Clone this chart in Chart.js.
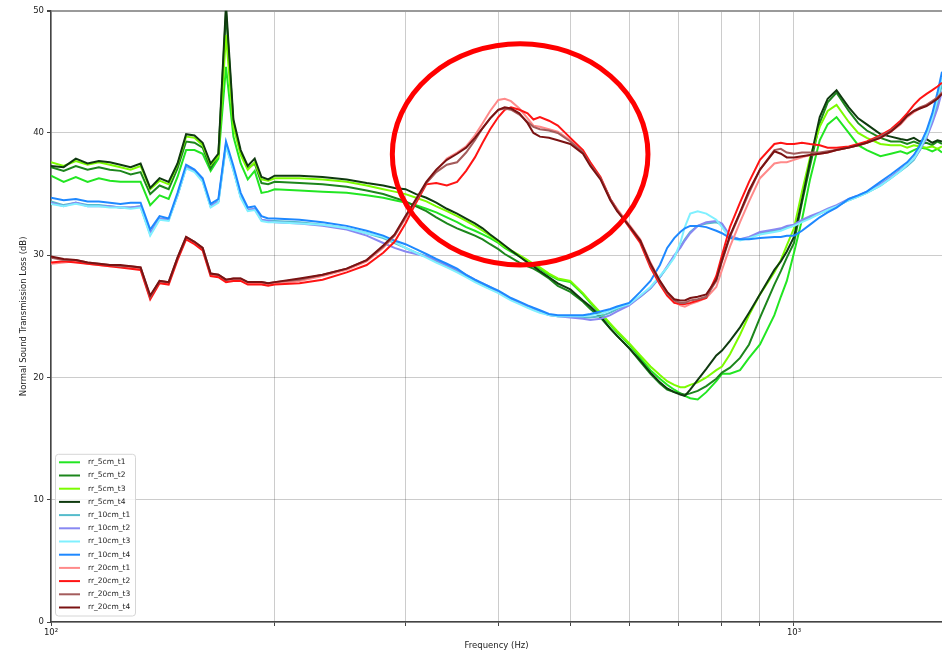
<!DOCTYPE html>
<html lang="en">
<head>
  <meta charset="UTF-8" />
  <title>Normal Sound Transmission Loss</title>
  <script src="https://cdn.jsdelivr.net/npm/chart.js"></script>
  <style>
    body {
      margin: 0;
      background: #fff;
    }

    .wrap {
      width: 942px;
      height: 654px;
    }
  </style>
</head>
<body>
  <div class="wrap">
    <canvas id="tlChart" width="942" height="654"></canvas>
  </div>

  <script>
    // frequencies (Hz) shared by every trace
    const freqs = [
      100, 104, 108, 112, 116, 120, 124, 128, 132, 136, 140, 144, 148, 152, 156, 160, 164, 168, 172, 176, 180, 184, 188, 192, 196, 200,
      216, 232, 250, 266, 280, 290, 300, 310, 320, 330,
      341, 352, 362, 372, 381, 390, 400, 408, 416, 427,
      438, 446, 455, 468, 481, 500, 520, 532, 549, 566,
      578, 600, 621, 641, 660, 675, 690, 703, 713, 725,
      742, 762, 786, 800, 820, 846, 870, 900, 941, 960,
      978, 1000, 1025, 1051, 1083, 1110, 1141, 1185, 1220, 1253,
      1307, 1350, 1391, 1420, 1450, 1477, 1508, 1535, 1560, 1582
    ];

    const xTicks = [100, 200, 300, 400, 500, 600, 700, 800, 900, 1000];
    const yTicks = [0, 10, 20, 30, 40, 50];

    const rr_5cm_t1 = [
      36.5, 36.0, 36.4, 36.0, 36.3, 36.1, 36.0, 36.0, 36.0, 34.1, 34.9, 34.6, 36.4, 38.6, 38.6, 38.3, 36.9, 37.9, 45.4, 39.7, 37.5, 36.2, 36.9, 35.1, 35.2, 35.4,
      35.3, 35.2, 35.1, 34.9, 34.7, 34.5, 34.3, 34.1, 33.8, 33.5,
      33.1, 32.7, 32.3, 32.0, 31.7, 31.4, 31.0, 30.6, 30.3, 29.9,
      29.5, 29.2, 28.9, 28.4, 28.0, 27.8, 26.8, 26.1, 25.2, 24.3,
      23.7, 22.7, 21.6, 20.6, 19.9, 19.4, 19.0, 18.7, 18.5, 18.3,
      18.2, 18.8, 19.7, 20.3, 20.3, 20.6, 21.6, 22.7, 25.1, 26.6,
      27.9, 30.2, 32.9, 36.2, 39.4, 40.7, 41.3, 40.0, 39.0, 38.6,
      38.1, 38.3, 38.5, 38.3, 38.6, 38.8, 38.7, 38.5, 38.7, 38.4
    ];
    const rr_5cm_t2 = [
      37.2, 36.9, 37.3, 37.0, 37.2, 37.0, 36.9, 36.6, 36.8, 35.0, 35.7, 35.4, 37.1, 39.3, 39.2, 38.8, 37.1, 38.2, 49.9, 40.8, 38.4, 37.1, 37.5, 35.9, 35.8, 36.0,
      35.9, 35.8, 35.6, 35.3, 35.0, 34.7, 34.4, 34.0, 33.6, 33.1,
      32.6, 32.2, 31.9, 31.6, 31.3, 30.9, 30.5, 30.1, 29.8, 29.4,
      29.1, 28.9, 28.6, 28.1, 27.5, 27.0, 26.2, 25.6, 24.9, 24.0,
      23.4, 22.4, 21.3, 20.3, 19.5, 19.0, 18.8, 18.7, 18.6, 18.7,
      18.9, 19.3, 19.9, 20.4, 20.8, 21.6, 22.7, 24.9, 27.6, 28.7,
      29.8, 31.0, 34.3, 37.3, 40.8, 42.5, 43.3, 41.8, 40.8, 40.2,
      39.6, 39.3, 39.3, 39.1, 39.3, 39.1, 39.2, 39.0, 39.3, 39.1
    ];
    const rr_5cm_t3 = [
      37.6, 37.3, 37.7, 37.4, 37.6, 37.4, 37.2, 37.0, 37.3, 35.4, 36.1, 35.8, 37.4, 39.7, 39.6, 39.0, 37.4, 38.1, 48.0, 40.5, 38.2, 37.0, 37.6, 36.2, 36.1, 36.3,
      36.3, 36.2, 36.0, 35.7, 35.4, 35.2, 35.0, 34.7, 34.4, 34.0,
      33.6, 33.2, 32.8, 32.4, 32.0, 31.6, 31.1, 30.7, 30.4, 30.0,
      29.6, 29.3, 29.0, 28.5, 28.1, 27.9, 26.9, 26.2, 25.3, 24.4,
      23.8, 22.8, 21.8, 20.9, 20.2, 19.7, 19.4, 19.2, 19.2, 19.4,
      19.6, 20.0, 20.6, 20.9, 21.9, 23.5, 25.1, 26.8, 28.6, 29.6,
      30.8, 32.2, 35.2, 38.0, 40.5, 41.8, 42.3, 40.9, 40.0, 39.6,
      39.1, 39.0, 39.0, 38.8, 39.0, 38.9, 38.8, 38.9, 38.7, 38.9
    ];
    const rr_5cm_t4 = [
      37.3, 37.2, 37.9, 37.5, 37.7, 37.6, 37.4, 37.2, 37.5, 35.5, 36.3, 36.0, 37.5, 39.9, 39.8, 39.2, 37.5, 38.3, 50.5, 41.1, 38.6, 37.3, 37.9, 36.4, 36.2, 36.5,
      36.5, 36.4, 36.2, 35.9, 35.7, 35.5, 35.4, 35.0, 34.7, 34.3,
      33.8, 33.4, 33.0, 32.6, 32.2, 31.7, 31.2, 30.8, 30.4, 29.9,
      29.4, 29.1, 28.7, 28.2, 27.7, 27.2, 26.3, 25.8, 25.0, 24.0,
      23.4, 22.4, 21.4, 20.4, 19.6, 19.1, 18.8, 18.6, 18.5, 19.0,
      19.8, 20.7, 21.8, 22.2, 23.0, 24.1, 25.3, 26.8, 28.8, 29.5,
      30.3, 31.5, 34.5, 37.7, 41.3, 42.8, 43.5, 42.1, 41.2, 40.7,
      39.9, 39.7, 39.5, 39.4, 39.6, 39.3, 39.5, 39.2, 39.4, 39.3
    ];

    const rr_10cm_t1 = [
      34.4, 34.1, 34.3, 34.1, 34.1, 34.0, 33.9, 33.9, 34.0, 31.7, 33.0, 32.9, 34.9, 37.2, 36.9, 36.1, 34.0, 34.4, 39.0, 37.0, 34.8, 33.7, 33.8, 32.9, 32.8, 32.8,
      32.7, 32.5, 32.2, 31.8, 31.4, 31.0, 30.6, 30.2, 29.9, 29.5,
      29.1, 28.7, 28.3, 27.9, 27.6, 27.3, 27.0, 26.7, 26.4, 26.1,
      25.8, 25.6, 25.4, 25.1, 25.0, 25.0, 24.9, 24.9, 25.0, 25.3,
      25.6, 26.0, 26.6, 27.3, 28.2, 29.0, 29.9, 30.7, 31.3, 31.9,
      32.4, 32.6, 32.7, 32.5, 31.5, 31.3, 31.4, 31.8, 32.0, 32.1,
      32.3, 32.4, 32.8, 33.1, 33.4, 33.7, 34.0, 34.5, 34.8, 35.1,
      35.7, 36.3, 36.9, 37.3, 37.8, 38.6, 39.7, 41.0, 42.4, 44.0
    ];
    const rr_10cm_t2 = [
      34.3, 34.0, 34.3, 34.0, 34.0, 34.0, 33.9, 33.9, 34.0, 31.8, 33.0, 32.9, 34.9, 37.2, 36.9, 36.1, 34.0, 34.4, 39.1, 37.0, 34.8, 33.7, 33.8, 32.9, 32.8, 32.7,
      32.6, 32.4, 32.1, 31.6, 31.0, 30.6, 30.3, 30.1, 29.9, 29.6,
      29.2, 28.8, 28.4, 28.0, 27.7, 27.4, 27.0, 26.7, 26.4, 26.1,
      25.8, 25.6, 25.4, 25.1, 25.0, 24.9, 24.8, 24.7, 24.8, 25.1,
      25.4, 25.9, 26.6, 27.3, 28.2, 29.1, 30.0, 30.6, 31.2, 31.8,
      32.4, 32.7, 32.8, 32.6, 31.6, 31.3, 31.5, 31.9, 32.1, 32.2,
      32.4, 32.5, 32.9, 33.2, 33.5, 33.8, 34.1, 34.6, 34.9, 35.2,
      35.8, 36.4, 37.0, 37.4, 37.9, 38.6, 39.6, 40.8, 42.0, 43.4
    ];
    const rr_10cm_t3 = [
      34.2, 34.0, 34.2, 34.0, 34.0, 33.9, 33.9, 33.8, 33.9, 31.6, 32.9, 32.8, 34.9, 37.1, 36.8, 36.0, 33.9, 34.3, 38.9, 36.9, 34.7, 33.6, 33.7, 32.8, 32.7, 32.7,
      32.6, 32.5, 32.2, 31.8, 31.5, 31.1, 30.6, 30.2, 29.8, 29.4,
      29.0, 28.6, 28.2, 27.8, 27.5, 27.2, 26.9, 26.6, 26.3, 26.0,
      25.7, 25.5, 25.3, 25.1, 25.0, 25.0, 25.0, 25.1, 25.2, 25.5,
      25.7, 26.0, 26.7, 27.4, 28.3, 29.0, 29.8, 31.0, 32.3, 33.4,
      33.6, 33.4, 32.9, 32.3, 31.4, 31.2, 31.4, 31.7, 31.9, 32.0,
      32.2, 32.4, 32.7, 33.0, 33.4, 33.7, 34.0, 34.5, 34.8, 35.1,
      35.7, 36.3, 36.9, 37.4, 37.9, 38.7, 39.8, 41.2, 42.8, 44.5
    ];
    const rr_10cm_t4 = [
      34.7, 34.5, 34.6, 34.4, 34.4, 34.3, 34.2, 34.3, 34.3, 32.1, 33.2, 33.0, 35.1, 37.4, 37.0, 36.3, 34.2, 34.6, 39.3, 37.3, 35.1, 33.9, 34.0, 33.2, 33.0, 33.0,
      32.9, 32.7, 32.4, 32.0, 31.6, 31.2, 30.9, 30.5, 30.1, 29.7,
      29.3, 28.9, 28.4, 28.0, 27.7, 27.4, 27.1, 26.8, 26.5, 26.2,
      25.9, 25.7, 25.5, 25.2, 25.1, 25.1, 25.1, 25.2, 25.4, 25.6,
      25.8, 26.1, 27.0, 27.9, 29.2, 30.6, 31.4, 31.9, 32.2, 32.4,
      32.4, 32.3, 32.0, 31.8, 31.4, 31.3, 31.3, 31.4, 31.5, 31.5,
      31.6, 31.6, 32.0, 32.5, 33.1, 33.5, 33.9, 34.6, 34.9, 35.2,
      36.0, 36.6, 37.2, 37.6, 38.2, 39.0, 40.2, 41.6, 43.3, 45.0
    ];

    const rr_20cm_t1 = [
      29.3, 29.4, 29.5, 29.3, 29.2, 29.1, 29.1, 29.0, 28.9, 26.5, 27.8, 27.7, 29.7, 31.4, 31.0, 30.5, 28.4, 28.3, 27.9, 28.0, 28.0, 27.7, 27.7, 27.7, 27.6, 27.7,
      27.9, 28.3, 28.8, 29.5, 30.6, 31.6, 33.0, 34.5, 35.9, 36.9,
      37.9, 38.4, 38.9, 39.8, 40.8, 41.8, 42.7, 42.8, 42.6, 42.0,
      41.2, 40.6, 40.5, 40.3, 40.1, 39.4, 38.4, 37.5, 36.3, 34.6,
      33.8, 32.5, 31.3, 29.4, 27.9, 26.9, 26.2, 25.9, 25.8, 26.0,
      26.2, 26.5, 27.4, 28.8, 30.7, 32.7, 34.4, 36.3, 37.5, 37.6,
      37.6, 37.8, 38.0, 38.2, 38.3, 38.4, 38.6, 38.8, 39.0, 39.2,
      39.6, 40.1, 40.7, 41.3, 41.7, 42.0, 42.3, 42.6, 42.9, 43.3
    ];
    const rr_20cm_t2 = [
      29.4, 29.5, 29.4, 29.3, 29.2, 29.1, 29.0, 28.9, 28.8, 26.4, 27.7, 27.6, 29.6, 31.3, 30.9, 30.4, 28.3, 28.2, 27.8, 27.9, 27.9, 27.6, 27.6, 27.6, 27.5, 27.6,
      27.7, 28.0, 28.6, 29.2, 30.2, 31.1, 32.6, 34.3, 35.8, 35.9,
      35.7, 36.0, 36.9, 38.0, 39.2, 40.3, 41.3, 41.9, 42.1, 41.9,
      41.6, 41.1, 41.3, 41.0, 40.6, 39.6, 38.6, 37.6, 36.4, 34.6,
      33.7, 32.3, 31.0, 29.0, 27.6, 26.7, 26.1, 26.0, 26.0, 26.1,
      26.3, 26.5, 28.3, 30.0, 32.3, 34.3, 36.0, 37.8, 39.1, 39.2,
      39.1, 39.1, 39.2, 39.1, 39.0, 38.8, 38.8, 38.9, 39.1, 39.3,
      39.8, 40.3, 41.0, 41.6, 42.3, 42.8, 43.2, 43.5, 43.8, 44.1
    ];
    const rr_20cm_t3 = [
      29.8, 29.6, 29.6, 29.4, 29.3, 29.2, 29.1, 29.1, 29.0, 26.6, 27.9, 27.8, 29.8, 31.5, 31.1, 30.6, 28.5, 28.4, 28.0, 28.1, 28.1, 27.8, 27.8, 27.8, 27.7, 27.8,
      28.0, 28.4, 28.9, 29.6, 30.7, 31.6, 33.1, 34.5, 35.9, 36.8,
      37.4, 37.6, 38.4, 39.4, 40.4, 41.2, 41.9, 42.0, 41.9, 41.5,
      40.9, 40.5, 40.3, 40.2, 40.0, 39.3, 38.4, 37.4, 36.3, 34.6,
      33.7, 32.4, 31.2, 29.2, 27.8, 26.9, 26.3, 26.1, 26.1, 26.3,
      26.4, 26.6, 27.9, 29.5, 31.5, 33.4, 35.1, 37.0, 38.6, 38.7,
      38.4, 38.3, 38.4, 38.4, 38.4, 38.5, 38.6, 38.8, 39.0, 39.2,
      39.7, 40.2, 40.8, 41.4, 41.8, 42.1, 42.3, 42.6, 42.9, 43.3
    ];
    const rr_20cm_t4 = [
      29.9, 29.7, 29.6, 29.4, 29.3, 29.2, 29.2, 29.1, 29.0, 26.7, 27.9, 27.8, 29.8, 31.5, 31.1, 30.6, 28.5, 28.4, 28.0, 28.1, 28.1, 27.8, 27.8, 27.8, 27.7, 27.8,
      28.1, 28.4, 28.9, 29.6, 30.8, 31.7, 33.2, 34.6, 36.0, 37.0,
      37.8, 38.3, 38.8, 39.6, 40.4, 41.2, 41.9, 42.1, 42.0, 41.6,
      40.8, 40.0, 39.7, 39.6, 39.4, 39.1, 38.3, 37.3, 36.2, 34.5,
      33.6, 32.4, 31.2, 29.3, 27.9, 27.0, 26.4, 26.3, 26.3, 26.5,
      26.6, 26.8, 28.0, 29.6, 31.6, 33.5, 35.3, 37.0, 38.5, 38.3,
      38.0, 38.0, 38.1, 38.2, 38.3, 38.4, 38.6, 38.8, 39.0, 39.2,
      39.6, 40.1, 40.8, 41.4, 41.8, 42.0, 42.2, 42.5, 42.8, 43.2
    ];

    const seriesNames = [
      'rr_5cm_t1', 'rr_5cm_t2', 'rr_5cm_t3', 'rr_5cm_t4',
      'rr_10cm_t1', 'rr_10cm_t2', 'rr_10cm_t3', 'rr_10cm_t4',
      'rr_20cm_t1', 'rr_20cm_t2', 'rr_20cm_t3', 'rr_20cm_t4'
    ];
    const seriesValues = [
      rr_5cm_t1, rr_5cm_t2, rr_5cm_t3, rr_5cm_t4,
      rr_10cm_t1, rr_10cm_t2, rr_10cm_t3, rr_10cm_t4,
      rr_20cm_t1, rr_20cm_t2, rr_20cm_t3, rr_20cm_t4
    ];
    const seriesColors = [
      '#22e622', '#1c861c', '#7cfc00', '#0f3a0f',
      '#55bccb', '#8888f2', '#80f0ff', '#1e88ff',
      '#ff8a8a', '#ff1414', '#a45c5c', '#7a1212'
    ];

    // red ring round the 20cm peak, given in data units (Hz, dB)
    const ringFreq = [288, 636];
    const ringDb = [29.2, 47.3];

    const fontFamily = '"DejaVu Sans", sans-serif';
    Chart.defaults.font.family = fontFamily;

    const ringPlugin = {
      id: 'ring',
      afterDatasetsDraw(chart) {
        const { ctx, scales } = chart;
        const x0 = scales.x.getPixelForValue(ringFreq[0]);
        const x1 = scales.x.getPixelForValue(ringFreq[1]);
        const y0 = scales.y.getPixelForValue(ringDb[1]);
        const y1 = scales.y.getPixelForValue(ringDb[0]);
        ctx.save();
        ctx.beginPath();
        ctx.ellipse((x0 + x1) / 2, (y0 + y1) / 2, (x1 - x0) / 2, (y1 - y0) / 2, 0, 0, Math.PI * 2);
        ctx.strokeStyle = '#ff0000';
        ctx.lineWidth = 5;
        ctx.stroke();
        ctx.restore();
      }
    };

    // matplotlib style legend box in the lower left corner
    const boxLegend = {
      id: 'boxLegend',
      afterDraw(chart) {
        const ctx = chart.ctx;
        const area = chart.chartArea;
        const sets = chart.data.datasets;
        const rowH = 13.2;
        const w = 80;
        const h = (sets.length - 1) * rowH + 16.5;
        const left = area.left + 4.5;
        const top = area.bottom - 6 - h;
        ctx.save();
        ctx.fillStyle = 'rgba(255,255,255,0.8)';
        ctx.strokeStyle = '#d6d6d6';
        ctx.lineWidth = 1;
        ctx.beginPath();
        ctx.roundRect(left, top, w, h, 3);
        ctx.fill();
        ctx.stroke();
        ctx.font = '7.5px ' + fontFamily;
        ctx.textBaseline = 'middle';
        sets.forEach((ds, i) => {
          const yy = top + 8 + i * rowH;
          ctx.strokeStyle = ds.borderColor;
          ctx.lineWidth = 2;
          ctx.beginPath();
          ctx.moveTo(left + 3.5, yy);
          ctx.lineTo(left + 24.5, yy);
          ctx.stroke();
          ctx.fillStyle = '#222';
          ctx.fillText(ds.label, left + 32.5, yy);
        });
        ctx.restore();
      }
    };

    const gridColor = 'rgba(0,0,0,0.2)';

    new Chart(document.getElementById('tlChart').getContext('2d'), {
      type: 'line',
      data: {
        datasets: seriesNames.map((name, i) => ({
          label: name,
          data: freqs.map((f, j) => ({ x: f, y: seriesValues[i][j] })),
          borderColor: seriesColors[i],
          backgroundColor: seriesColors[i],
          borderWidth: 2,
          pointRadius: 0,
          tension: 0,
          fill: false,
          order: seriesNames.length - i
        }))
      },
      options: {
        responsive: false,
        animation: false,
        devicePixelRatio: 1,
        layout: { padding: { top: 10.7, right: 0, bottom: 0, left: 0 } },
        plugins: {
          legend: { display: false },
          tooltip: { enabled: false }
        },
        scales: {
          x: {
            type: 'logarithmic',
            min: 100,
            max: 1582,
            afterBuildTicks: (s) => { s.ticks = xTicks.map(v => ({ value: v })); },
            afterFit: (s) => { s.height = 32; },
            ticks: {
              autoSkip: false,
              maxRotation: 0,
              padding: 2,
              color: '#222',
              font: { size: 8.5 },
              callback: (v) => v === 100 ? '10²' : v === 1000 ? '10³' : ''
            },
            grid: { color: gridColor, lineWidth: 1, tickLength: 4, tickColor: '#444' },
            border: { color: '#444', width: 1.5 },
            title: {
              display: true,
              text: 'Frequency (Hz)',
              color: '#222',
              font: { size: 8.5 },
              padding: { top: 0, bottom: 3 }
            }
          },
          y: {
            min: 0,
            max: 50,
            afterBuildTicks: (s) => { s.ticks = yTicks.map(v => ({ value: v })); },
            afterFit: (s) => { s.width = 51; },
            ticks: { padding: 3, color: '#222', font: { size: 8.5 } },
            grid: {
              color: (c) => (c.tick && c.tick.value === 50) ? '#9a9a9a' : gridColor,
              lineWidth: (c) => (c.tick && c.tick.value === 50) ? 2 : 1,
              tickLength: 4,
              tickColor: '#444'
            },
            border: { color: '#444', width: 1.5 },
            title: {
              display: true,
              text: 'Normal Sound Transmission Loss (dB)',
              color: '#222',
              font: { size: 8.5 },
              padding: { top: 19, bottom: 0 }
            }
          }
        }
      },
      plugins: [ringPlugin, boxLegend]
    });
  </script>
</body>
</html>
